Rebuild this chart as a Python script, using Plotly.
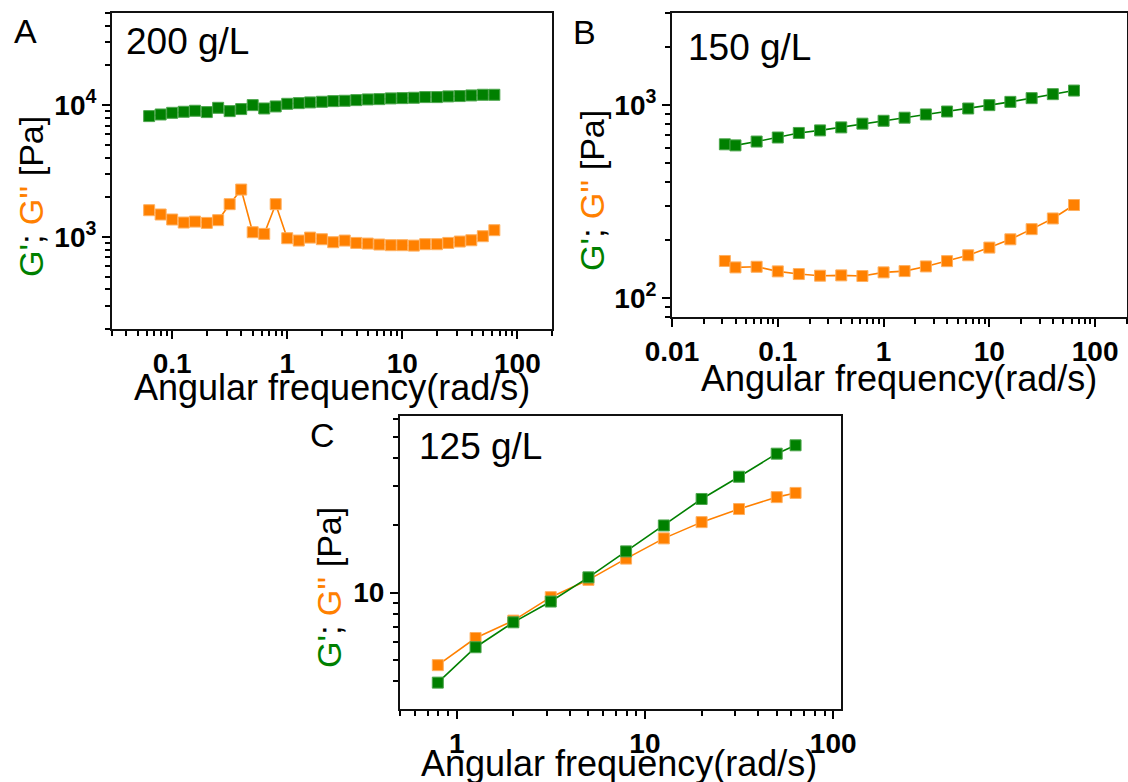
import math
import plotly.graph_objects as go

FONT = "Liberation Sans, Arial, sans-serif"
GREEN = "#008000"
ORANGE = "#ff8000"
GREEN_EDGE = "#4ca64c"
ORANGE_EDGE = "#ffb060"

# ---- 200 g/L ----
freq_200 = [0.0631, 0.0794, 0.1, 0.126, 0.158, 0.2, 0.251, 0.316, 0.398, 0.501,
            0.631, 0.794, 1, 1.26, 1.58, 2, 2.51, 3.16, 3.98, 5.01,
            6.31, 7.94, 10, 12.6, 15.8, 20, 25.1, 31.6, 39.8, 50.1, 63.1]
gp_200 = [8250, 8490, 8740, 8900, 9060, 8850, 9540, 9000, 9330, 10000,
          9430, 9770, 10230, 10350, 10480, 10600, 10720, 10790, 10910, 11040,
          11100, 11240, 11300, 11370, 11500, 11500, 11640, 11710, 11840, 11980, 11980]
gpp_200 = [1594, 1479, 1355, 1285, 1307, 1277, 1339, 1771, 2287, 1085,
           1054, 1771, 977, 938, 988, 960, 911, 938, 900, 890,
           875, 865, 865, 859, 880, 880, 900, 922, 943, 1012, 1124]

# ---- 150 g/L ----
freq_150 = [0.0316, 0.0398, 0.0631, 0.1, 0.158, 0.251, 0.398, 0.631, 1,
            1.58, 2.51, 3.98, 6.31, 10, 15.8, 25.1, 39.8, 63.1]
gp_150 = [627, 619, 648, 680, 718, 740, 767, 802, 830,
          861, 895, 927, 961, 1000, 1040, 1087, 1140, 1190]
gpp_150 = [156, 144.5, 145.6, 137.8, 133.5, 130.9, 131.4, 130.4, 136.2,
           138.3, 146.2, 155.7, 167, 183, 202, 228, 259, 304]

# ---- 125 g/L ----
freq_125 = [0.794, 1.26, 2.0, 3.16, 5.01, 7.94, 12.6, 20, 31.6, 50.1, 63.1]
gp_125 = [3.94, 5.68, 7.35, 9.11, 11.7, 15.3, 20.0, 26.3, 33.1, 42.0, 45.8]
gpp_125 = [4.72, 6.25, 7.48, 9.53, 11.4, 14.2, 17.5, 20.7, 23.7, 26.8, 28.0]

panel_letters = ["A", "B", "C"]
conc_labels = ["200 g/L", "150 g/L", "125 g/L"]
x_title = "Angular frequency(rad/s)"
y_title = (f"<span style='color:{GREEN}'>G'</span>; "
           f"<span style='color:{ORANGE}'>G''</span> [Pa]")

W, H = 1128, 782


def px(x):
    return x / W


def py(y):
    return 1 - y / H


def decades(lo, hi, mults):
    out = []
    for d in range(lo, hi + 1):
        for m in mults:
            out.append(m * 10.0 ** d)
    return out


fig = go.Figure()

series = [
    ("x", "y", freq_200, gp_200, gpp_200),
    ("x2", "y2", freq_150, gp_150, gpp_150),
    ("x3", "y3", freq_125, gp_125, gpp_125),
]
for xa, ya, f, gp, gpp in series:
    fig.add_trace(go.Scatter(
        x=f, y=gpp, xaxis=xa, yaxis=ya, mode="lines+markers",
        line=dict(color=ORANGE, width=1.6),
        marker=dict(symbol="square", size=11, color=ORANGE,
                    line=dict(color=ORANGE_EDGE, width=1)),
        showlegend=False))
    fig.add_trace(go.Scatter(
        x=f, y=gp, xaxis=xa, yaxis=ya, mode="lines+markers",
        line=dict(color=GREEN, width=1.6),
        marker=dict(symbol="square", size=11, color=GREEN,
                    line=dict(color=GREEN_EDGE, width=1)),
        showlegend=False))

tickfont = dict(family=FONT, size=28, color="black", weight="bold")


def axis(domain, anchor, rng, major, labels, minor_vals):
    return dict(
        type="log", domain=domain, anchor=anchor, range=rng, automargin=False,
        tickmode="array", tickvals=major, ticktext=labels,
        ticks="outside", ticklen=8, tickwidth=2, tickcolor="black",
        showline=True, linecolor="#111111", linewidth=2, mirror=True,
        showgrid=False, zeroline=False, tickfont=tickfont,
        minor=dict(tickmode="array", tickvals=minor_vals, ticks="outside",
                   ticklen=5, tickwidth=1.5, tickcolor="black", showgrid=False),
    )


mult = [2, 3, 4, 5, 6, 7, 8, 9]

fig.update_layout(
    xaxis=axis([px(112), px(552)], "y",
               [math.log10(0.03), math.log10(200)],
               [0.1, 1, 10, 100], ["0.1", "1", "10", "100"],
               [0.03, 0.04, 0.05, 0.06, 0.07, 0.08, 0.09] + decades(-1, 1, mult) + [200]),
    yaxis=axis([py(329), py(13)], "x",
               [math.log10(200), math.log10(50000)],
               [1000, 10000], ["10<sup>3</sup>", "10<sup>4</sup>"],
               decades(2, 3, mult) + [20000, 30000, 40000, 50000]),
    xaxis2=axis([px(672), px(1127)], "y2",
                [-2, math.log10(200)],
                [0.01, 0.1, 1, 10, 100], ["0.01", "0.1", "1", "10", "100"],
                decades(-2, 1, mult) + [200]),
    yaxis2=axis([py(317), py(13)], "x2",
                [math.log10(80), math.log10(3000)],
                [100, 1000], ["10<sup>2</sup>", "10<sup>3</sup>"],
                [80, 90] + decades(2, 2, mult) + [2000, 3000]),
    xaxis3=axis([px(400), px(841)], "y3",
                [math.log10(0.5), math.log10(110)],
                [1, 10, 100], ["1", "10", "100"],
                [0.5, 0.6, 0.7, 0.8, 0.9] + decades(0, 1, mult)),
    yaxis3=axis([py(709), py(416)], "x3",
                [math.log10(3), math.log10(62)],
                [10], ["10"],
                [4, 5, 6, 7, 8, 9, 20, 30, 40, 50, 60]),
)

annotations = []
# panel letters
for letter, (x, y) in zip(panel_letters, [(12, 10), (571, 11), (308, 414)]):
    annotations.append(dict(text=letter, x=px(x), y=py(y), xref="paper", yref="paper",
                            xanchor="left", yanchor="top", showarrow=False,
                            font=dict(family=FONT, size=34, color="black")))
# concentration labels
for lab, (x, y) in zip(conc_labels, [(124, 19), (686, 25), (417, 424)]):
    annotations.append(dict(text=lab, x=px(x), y=py(y), xref="paper", yref="paper",
                            xanchor="left", yanchor="top", showarrow=False,
                            font=dict(family=FONT, size=37, color="black")))
# x titles
for cx, cy in [(332, 387), (899, 379), (619, 763)]:
    annotations.append(dict(text=x_title, x=px(cx), y=py(cy), xref="paper", yref="paper",
                            xanchor="center", yanchor="middle", showarrow=False,
                            font=dict(family=FONT, size=36, color="black")))
# y titles
for cx, cy in [(31, 197), (592, 191), (329, 588)]:
    annotations.append(dict(text=y_title, x=px(cx), y=py(cy), xref="paper", yref="paper",
                            xanchor="center", yanchor="middle", textangle=-90,
                            showarrow=False,
                            font=dict(family=FONT, size=34, color="black")))

fig.update_layout(
    width=W, height=H, margin=dict(l=0, r=0, t=0, b=0),
    paper_bgcolor="white", plot_bgcolor="white",
    annotations=annotations,
)

fig.write_html("out.html")
